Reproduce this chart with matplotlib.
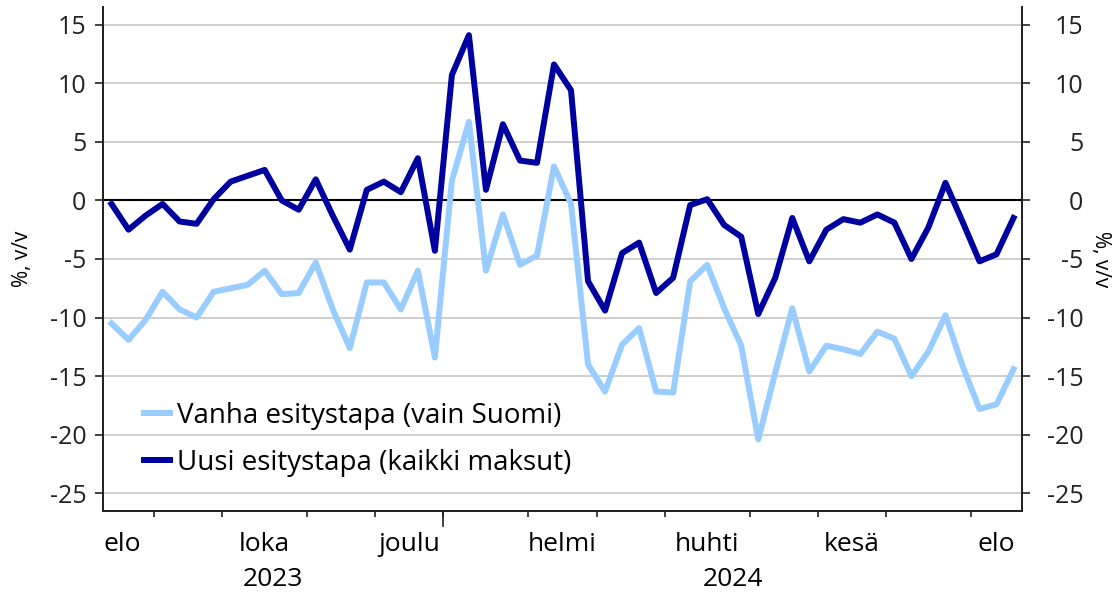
import numpy as np
import pandas as pd
import matplotlib
matplotlib.use("Agg")
import matplotlib.pyplot as plt

# weekly observations, Aug 2023 - Aug 2024
WEEK_START = "2023-08-14"

VANHA = [
    -10.5, -11.9, -10.2, -7.8, -9.3, -10.0, -7.8, -7.5, -7.2, -6.0,
    -8.0, -7.9, -5.3, -9.3, -12.6, -7.0, -7.0, -9.3, -6.0, -13.4,
    1.7, 6.7, -6.0, -1.2, -5.5, -4.7, 2.9, -0.3, -14.0, -16.3,
    -12.3, -10.9, -16.3, -16.4, -6.9, -5.5, -9.2, -12.4, -20.4, -14.7,
    -9.2, -14.6, -12.4, -12.7, -13.1, -11.2, -11.8, -15.0, -12.9, -9.8,
    -14.1, -17.8, -17.4, -14.4,
]

UUSI = [
    -0.3, -2.5, -1.3, -0.3, -1.8, -2.0, 0.1, 1.6, 2.1, 2.6,
    0.0, -0.8, 1.8, -1.3, -4.2, 0.9, 1.6, 0.7, 3.6, -4.3,
    10.7, 14.1, 0.9, 6.5, 3.4, 3.2, 11.6, 9.4, -6.9, -9.4,
    -4.5, -3.6, -7.9, -6.6, -0.4, 0.1, -2.1, -3.1, -9.7, -6.6,
    -1.5, -5.2, -2.5, -1.6, -1.9, -1.2, -1.9, -5.0, -2.3, 1.5,
    -1.8, -5.2, -4.6, -1.5,
]

MONTHS_FI = ["tammi", "helmi", "maalis", "huhti", "touko", "kesä",
             "heinä", "elo", "syys", "loka", "marras", "joulu"]

LABELS = ["Vanha esitystapa (vain Suomi)", "Uusi esitystapa (kaikki maksut)"]
Y_TICKS = [15, 10, 5, 0, -5, -10, -15, -20, -25]

LIGHT = "#99ccff"
DARK = "#0000a0"

plt.rcParams["font.family"] = ["Open Sans", "DejaVu Sans"]
plt.rcParams["axes.unicode_minus"] = False

dates = pd.date_range(WEEK_START, periods=len(UUSI), freq="W-MON")
x = np.arange(len(dates))

fig = plt.figure(figsize=(11.16, 5.93), dpi=100)
ax = fig.add_axes([0.0923, 0.1383, 0.8235, 0.8499])

ax.set_ylim(-26.5, 16.5)
ax.set_xlim(-0.5, len(dates) - 0.5)
for t in Y_TICKS:
    ax.axhline(t, color="#cccccc", lw=1.3, zorder=1)
ax.axhline(0, color="black", lw=1.5, zorder=2)

ax.plot(x, VANHA, color=LIGHT, lw=4.3, label=LABELS[0], zorder=3)
ax.plot(x, UUSI, color=DARK, lw=4.3, label=LABELS[1], zorder=4)

ax.set_yticks(Y_TICKS)
ax.tick_params(axis="y", labelsize=18, length=6, width=1.2, pad=6,
               colors="#222222")
ax.set_ylabel("%, v/v", fontsize=15, labelpad=12)

# month boundaries, month centres, year centres
months = dates.to_period("M")
bounds = [i - 0.5 for i in range(1, len(dates)) if months[i] != months[i - 1]]
ax.set_xticks(bounds)
ax.set_xticklabels([])
year_bound = [i - 0.5 for i in range(1, len(dates)) if dates[i].year != dates[i - 1].year]
ax.tick_params(axis="x", length=4, width=1.2, color="#222222")

edges = [-0.5] + bounds + [len(dates) - 0.5]
per = months.unique()
for k, p in enumerate(per):
    if k % 2 == 0:
        c = (edges[k] + edges[k + 1]) / 2
        if k == 0:
            c -= 0.35
        ax.text(c, -0.067, MONTHS_FI[p.month - 1], transform=ax.get_xaxis_transform(),
                ha="center", va="center", fontsize=19)
for yr in sorted(set(dates.year)):
    idx = np.where(dates.year == yr)[0]
    c = (idx[0] + idx[-1]) / 2
    ax.text(c, -0.135, str(yr), transform=ax.get_xaxis_transform(),
            ha="center", va="center", fontsize=19)
for b in year_bound:
    ax.plot([b, b], [0, -0.03], transform=ax.get_xaxis_transform(),
            color="#222222", lw=1.2, clip_on=False)

ax2 = ax.twinx()
ax2.set_ylim(ax.get_ylim())
ax2.set_yticks(Y_TICKS)
ax2.tick_params(axis="y", labelsize=18, length=6, width=1.2, pad=38,
                colors="#222222")
for lab in ax2.get_yticklabels():
    lab.set_horizontalalignment("right")
ax2.set_ylabel("%, v/v", fontsize=15, rotation=270, labelpad=20)

for a in (ax, ax2):
    a.spines["top"].set_visible(False)
    for s in ("left", "right", "bottom"):
        a.spines[s].set_linewidth(1.3)
        a.spines[s].set_color("#222222")

ax.legend(loc="center left", bbox_to_anchor=(0.017, 0.142), frameon=False,
          fontsize=20, handlelength=0.95, handletextpad=0.25, labelspacing=0.68)

fig.savefig("out.png", dpi=100)
